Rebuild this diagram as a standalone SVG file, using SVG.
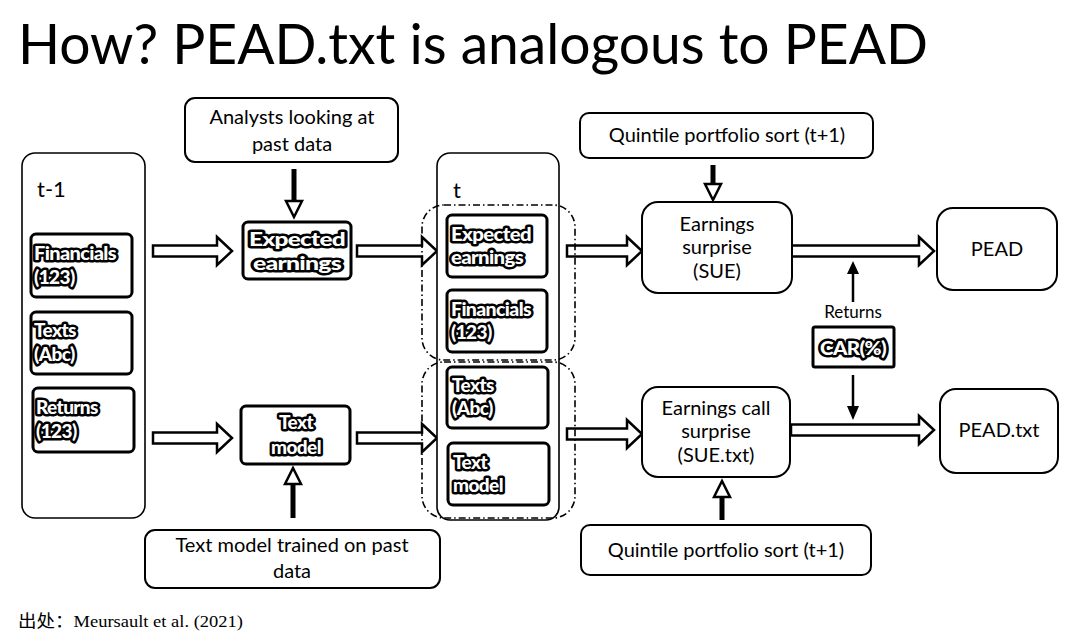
<svg xmlns="http://www.w3.org/2000/svg" width="1080" height="640" viewBox="0 0 1080 640">
<style>
text{font-family:Lato,"Noto Sans",sans-serif;fill:#000}
.box{fill:#fff;stroke:#000;stroke-width:2}
.cont{fill:#fff;stroke:#000;stroke-width:1.6}
.thick{fill:#fff;stroke:#000;stroke-width:3}
.dd{fill:none;stroke:#000;stroke-width:1.6;stroke-dasharray:7 3 1.5 3}
.lbl{font-size:20px;text-anchor:middle}
.ol{font-size:19px;font-weight:900;fill:#fff;stroke:#000;stroke-width:5;stroke-linejoin:round;paint-order:stroke;letter-spacing:-0.6px}
.olc{text-anchor:middle}
.ha{fill:#fff;stroke:#000;stroke-width:2.5;stroke-linejoin:miter}
.vl{stroke:#000;stroke-width:5;fill:none}
.tl{stroke:#000;stroke-width:2.5;fill:none}
.foot{font-family:"Liberation Serif","Noto Sans CJK SC",serif;font-size:17px}
</style>
<text x="18" y="64" font-size="56" textLength="910" lengthAdjust="spacingAndGlyphs">How? PEAD.txt is analogous to PEAD</text>

<g id="connectors">
<path class="ha" d="M153,245.5H217V237L232,251L217,265V256.5H153Z"/>
<path class="ha" d="M153,432.5H217V424L232,438L217,452V443.5H153Z"/>
<path class="ha" d="M357,245.5H422V237L437,251L422,265V256.5H357Z"/>
<path class="ha" d="M357,432.5H422V424L437,438L422,452V443.5H357Z"/>
<path class="ha" d="M567,245.5H627V237L642,251L627,265V256.5H567Z"/>
<path class="ha" d="M567,428.5H627V420L642,434L627,448V439.5H567Z"/>
<path class="ha" d="M791,245.5H919V237L934,251L919,265V256.5H791Z"/>
<path class="ha" d="M791,424.5H919V416L934,430L919,444V435.5H791Z"/>
<line class="vl" x1="294" y1="169" x2="294" y2="201"/>
<path class="ha" d="M286,201H302L294,217Z"/>
<line class="vl" x1="293" y1="484" x2="293" y2="518"/>
<path class="ha" d="M285,484H301L293,468Z"/>
<line class="vl" x1="713" y1="165" x2="713" y2="184"/>
<path class="ha" d="M705,184H721L713,200Z"/>
<line class="vl" x1="722" y1="497" x2="722" y2="520"/>
<path class="ha" d="M714,497H730L722,481Z"/>
<line class="tl" x1="853" y1="302" x2="853" y2="272"/>
<path d="M847,274H859L853,261Z" fill="#000"/>
<line class="tl" x1="853" y1="375" x2="853" y2="408"/>
<path d="M847,406H859L853,420Z" fill="#000"/>
</g>

<g id="t-1">
<rect class="cont" x="22" y="153" width="123" height="365" rx="13"/>
<text x="37" y="197" font-size="22">t-1</text>
</g>
<g id="financials-1">
<rect class="thick" x="31" y="234" width="101" height="63" rx="5"/>
<text class="ol" x="34" y="260" textLength="82" lengthAdjust="spacingAndGlyphs">Financials</text>
<text class="ol" x="34" y="284">(123)</text>
</g>
<g id="texts-1">
<rect class="thick" x="31" y="312" width="101" height="62" rx="5"/>
<text class="ol" x="34" y="337">Texts</text>
<text class="ol" x="34" y="361">(Abc)</text>
</g>
<g id="returns-1">
<rect class="thick" x="33" y="388" width="101" height="64" rx="5"/>
<text class="ol" x="36" y="414">Returns</text>
<text class="ol" x="36" y="438">(123)</text>
</g>

<g id="analysts">
<rect class="box" x="185" y="98" width="213" height="64" rx="10"/>
<text class="lbl" x="292" y="124">Analysts looking at</text>
<text class="lbl" x="292" y="151">past data</text>
</g>
<g id="expected">
<rect class="thick" x="243" y="222" width="108" height="57" rx="5"/>
<text class="ol olc" x="297" y="246" font-size="20" textLength="96" lengthAdjust="spacingAndGlyphs">Expected</text>
<text class="ol olc" x="297" y="270" font-size="20" textLength="88" lengthAdjust="spacingAndGlyphs">earnings</text>
</g>
<g id="textmodel">
<rect class="thick" x="241" y="406" width="109" height="58" rx="5"/>
<text class="ol olc" x="296" y="429" font-size="20">Text</text>
<text class="ol olc" x="296" y="454" font-size="20">model</text>
</g>
<g id="trained">
<rect class="box" x="145" y="530" width="295" height="58" rx="10"/>
<text class="lbl" x="292" y="552">Text model trained on past</text>
<text class="lbl" x="292" y="578">data</text>
</g>

<g id="t">
<rect class="cont" x="437" y="153" width="122" height="367" rx="13"/>
<text x="453" y="198" font-size="22">t</text>
<rect class="dd" x="422" y="205" width="153" height="155" rx="22"/>
<rect class="dd" x="422" y="362" width="153" height="156" rx="22"/>
</g>
<g id="expected-t">
<rect class="thick" x="447" y="215" width="100" height="62" rx="5"/>
<text class="ol" x="451" y="241" font-size="18" textLength="80" lengthAdjust="spacingAndGlyphs">Expected</text>
<text class="ol" x="451" y="264" font-size="18" textLength="72" lengthAdjust="spacingAndGlyphs">earnings</text>
</g>
<g id="financials-t">
<rect class="thick" x="447" y="290" width="100" height="62" rx="5"/>
<text class="ol" x="451" y="316" font-size="18" textLength="80" lengthAdjust="spacingAndGlyphs">Financials</text>
<text class="ol" x="451" y="339" font-size="18">(123)</text>
</g>
<g id="texts-t">
<rect class="thick" x="447" y="367" width="101" height="61" rx="5"/>
<text class="ol" x="452" y="392" font-size="18">Texts</text>
<text class="ol" x="452" y="415" font-size="18">(Abc)</text>
</g>
<g id="textmodel-t">
<rect class="thick" x="448" y="443" width="101" height="62" rx="5"/>
<text class="ol" x="453" y="469" font-size="18">Text</text>
<text class="ol" x="453" y="492" font-size="18">model</text>
</g>

<g id="quintile-top">
<rect class="box" x="580" y="113" width="293" height="45" rx="9"/>
<text class="lbl" x="727" y="142">Quintile portfolio sort (t+1)</text>
</g>
<g id="sue">
<rect class="box" x="642" y="202" width="150" height="91" rx="16"/>
<text class="lbl" x="717" y="231" font-size="19">Earnings</text>
<text class="lbl" x="717" y="254" font-size="19">surprise</text>
<text class="lbl" x="717" y="278" font-size="19">(SUE)</text>
</g>
<g id="suetxt">
<rect class="box" x="642" y="387" width="148" height="90" rx="16"/>
<text class="lbl" x="716" y="415" font-size="19">Earnings call</text>
<text class="lbl" x="716" y="438" font-size="19">surprise</text>
<text class="lbl" x="716" y="462" font-size="19">(SUE.txt)</text>
</g>
<g id="quintile-bottom">
<rect class="box" x="581" y="525" width="290" height="50" rx="9"/>
<text class="lbl" x="726" y="557">Quintile portfolio sort (t+1)</text>
</g>
<g id="pead">
<rect class="box" x="937" y="208" width="120" height="82" rx="16"/>
<text class="lbl" x="997" y="256">PEAD</text>
</g>
<g id="peadtxt">
<rect class="box" x="940" y="389" width="118" height="84" rx="16"/>
<text class="lbl" x="999" y="437">PEAD.txt</text>
</g>
<g id="returns">
<text x="853" y="318" font-size="17" text-anchor="middle">Returns</text>
</g>
<g id="car">
<rect class="thick" x="813" y="327" width="81" height="40" rx="2"/>
<text class="ol olc" x="853" y="355" font-size="18" textLength="66" lengthAdjust="spacingAndGlyphs">CAR(%)</text>
</g>
<text class="foot" x="18" y="627" textLength="225" lengthAdjust="spacingAndGlyphs">出处：Meursault et al. (2021)</text>
</svg>
